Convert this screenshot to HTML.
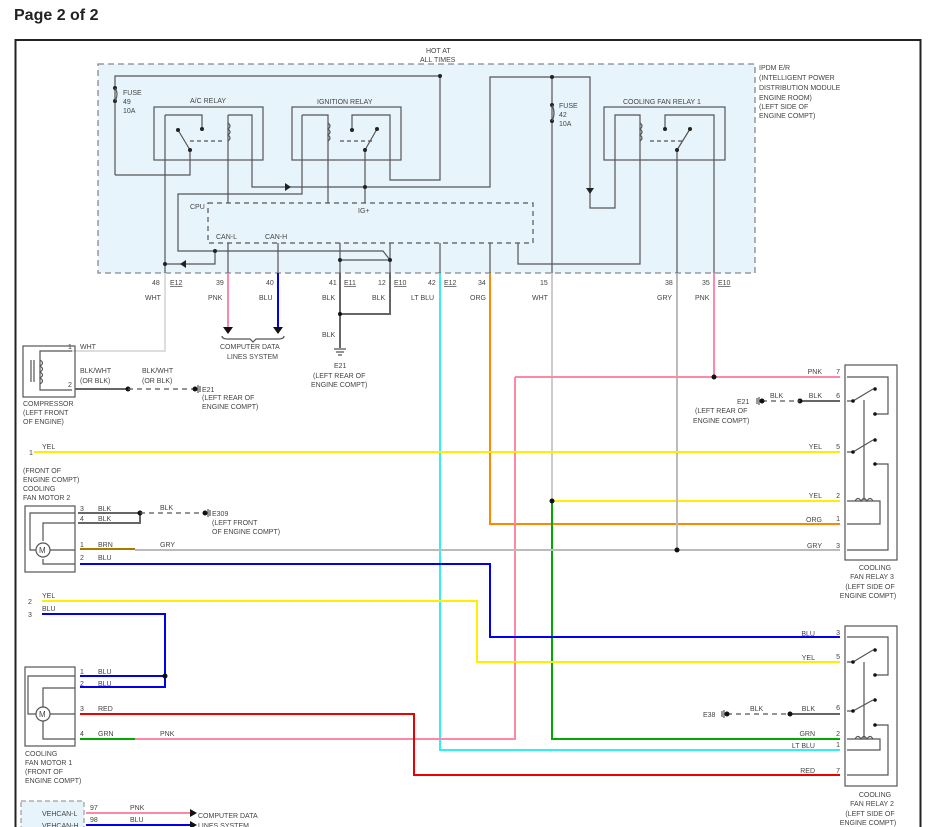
<!DOCTYPE html>
<html><head><meta charset="utf-8"><style>
html,body{margin:0;padding:0;background:#fff;}
svg{display:block;font-family:"Liberation Sans",sans-serif;}
text{font-size:7px;fill:#444;}
.t{font-size:16px;font-weight:bold;fill:#222;}
.k{stroke:#555;stroke-width:1.2;fill:none;}
.w{stroke-width:2;fill:none;}
.d{stroke:#555;stroke-width:1.2;fill:none;stroke-dasharray:5,4;}
</style></head><body>
<svg width="938" height="827" viewBox="0 0 938 827">
<text x="14" y="20" class="t">Page 2 of 2</text>
<rect x="15.5" y="40" width="905" height="800" fill="none" stroke="#222" stroke-width="2"/>

<!-- IPDM -->
<rect x="98" y="64" width="657" height="209" fill="#e8f4fc" stroke="#888" stroke-width="1.3" stroke-dasharray="6,4"/>
<text x="426" y="53">HOT AT</text><text x="420" y="62">ALL TIMES</text>
<text x="759" y="70">IPDM E/R</text><text x="759" y="80">(INTELLIGENT POWER</text><text x="759" y="90">DISTRIBUTION MODULE</text><text x="759" y="100">ENGINE ROOM)</text><text x="759" y="109">(LEFT SIDE OF</text><text x="759" y="118">ENGINE COMPT)</text>
<!-- relays boxes -->
<rect x="154" y="107" width="109" height="53" fill="#e8f4fc" class="k"/>
<rect x="292" y="107" width="109" height="53" fill="#e8f4fc" class="k"/>
<rect x="604" y="107" width="121" height="53" fill="#e8f4fc" class="k"/>
<text x="190" y="103">A/C RELAY</text><text x="317" y="104">IGNITION RELAY</text><text x="623" y="104">COOLING FAN RELAY 1</text>
<rect x="208" y="203" width="325" height="40" fill="#e8f4fc" class="d"/>
<text x="190" y="209">CPU</text><text x="358" y="213">IG+</text><text x="216" y="239">CAN-L</text><text x="265" y="239">CAN-H</text>
<text x="123" y="95">FUSE</text><text x="123" y="104">49</text><text x="123" y="113">10A</text>
<text x="559" y="108">FUSE</text><text x="559" y="117">42</text><text x="559" y="126">10A</text>
<g class="k">
<path d="M115 175V76H440V180H390V115H352V130"/>
<path d="M115 175H190V150"/>
<path d="M178 130L190 150M165 115H202V129M165 115V273"/>
<path d="M228 115H252V187H490V77H590V208H615V115H640V264H518V243"/>
<path d="M228 115V203M228 243V273"/>
<path d="M302 115H328V203M302 115V194H178V251H383L390 260M340 260H390"/>
<path d="M365 150L377 129M365 150V203M352 130H352"/>
<path d="M552 77V273M665 129V115H714V273M677 150L690 129M677 150V273"/>
<path d="M278 243V273M340 243V273M390 243V273M440 243V273M490 243V273"/>
<path d="M165 264H215V251"/>
<path d="M190 141H222M340 141H372M650 141H683" stroke-dasharray="4,3"/>
</g>
<g fill="#222">
<circle cx="440" cy="76" r="2"/><circle cx="115" cy="88" r="2"/><circle cx="115" cy="101" r="2"/>
<circle cx="178" cy="130" r="2"/><circle cx="202" cy="129" r="2"/><circle cx="190" cy="150" r="2"/>
<circle cx="352" cy="130" r="2"/><circle cx="377" cy="129" r="2"/><circle cx="365" cy="150" r="2"/><circle cx="365" cy="187" r="2"/>
<circle cx="665" cy="129" r="2"/><circle cx="690" cy="129" r="2"/><circle cx="677" cy="150" r="2"/>
<circle cx="552" cy="77" r="2"/><circle cx="552" cy="105" r="2"/><circle cx="552" cy="121" r="2"/>
<circle cx="165" cy="264" r="2"/><circle cx="215" cy="251" r="2"/><circle cx="340" cy="260" r="2"/><circle cx="390" cy="260" r="2"/>
<path d="M285 183L291 187L285 191Z"/><path d="M186 260L180 264L186 268Z"/><path d="M586 188L594 188L590 194Z"/>
</g>
<g class="k" stroke-width="1"><path d="M228 123q4 3 0 6q4 3 0 6q4 3 0 6"/><path d="M328 123q4 3 0 6q4 3 0 6q4 3 0 6"/><path d="M640 123q4 3 0 6q4 3 0 6q4 3 0 6"/><path d="M115 88q4 6 0 13"/><path d="M552 105q4 8 0 16"/></g>

<!-- pin labels -->
<g>
<text x="152" y="285">48</text><text x="170" y="285" text-decoration="underline">E12</text><text x="145" y="300">WHT</text>
<text x="216" y="285">39</text><text x="208" y="300">PNK</text>
<text x="266" y="285">40</text><text x="259" y="300">BLU</text>
<text x="329" y="285">41</text><text x="344" y="285" text-decoration="underline">E11</text><text x="322" y="300">BLK</text>
<text x="378" y="285">12</text><text x="394" y="285" text-decoration="underline">E10</text><text x="372" y="300">BLK</text>
<text x="428" y="285">42</text><text x="444" y="285" text-decoration="underline">E12</text><text x="411" y="300">LT BLU</text>
<text x="478" y="285">34</text><text x="470" y="300">ORG</text>
<text x="540" y="285">15</text><text x="532" y="300">WHT</text>
<text x="665" y="285">38</text><text x="657" y="300">GRY</text>
<text x="702" y="285">35</text><text x="718" y="285" text-decoration="underline">E10</text><text x="695" y="300">PNK</text>
</g>

<!-- wires -->
<path class="w" stroke="#dddddd" d="M165 273V351H72"/>
<path class="w" stroke="#ff88a8" d="M228 273V328"/>
<path class="w" stroke="#0000ee" d="M278 273V328"/>
<path d="M223 327H233L228 334Z M273 327H283L278 334Z" fill="#111"/>
<path class="k" stroke-width="1" d="M222 336q0 3 6 3h22l3 3l3-3h22q6 0 6-3"/>
<text x="220" y="349">COMPUTER DATA</text><text x="227" y="359">LINES SYSTEM</text>
<path class="w" stroke="#666" d="M340 273V348M390 273V314H340"/>
<circle cx="340" cy="314" r="2" fill="#111"/><text x="322" y="337">BLK</text>
<path class="k" d="M334 349H346M336 352H344M338 355H342"/>
<text x="334" y="368">E21</text><text x="313" y="378">(LEFT REAR OF</text><text x="311" y="387">ENGINE COMPT)</text>
<path class="w" stroke="#33eeee" d="M440 273V750H840"/>
<path class="w" stroke="#ff8800" d="M490 273V524H840"/>
<path class="w" stroke="#cccccc" d="M552 273V501"/>
<path class="w" stroke="#ffee00" d="M552 501H840"/>
<path class="w" stroke="#00aa00" d="M552 501V739H840"/>
<path class="w" stroke="#bbbbbb" d="M677 273V550"/>
<path class="w" stroke="#ff88a8" d="M714 273V377M515 377H840M515 377V739H135"/>
<path class="w" stroke="#ffee00" d="M34 452H840"/>
<path class="w" stroke="#bbbbbb" d="M135 550H840"/>
<path class="w" stroke="#aa7700" d="M80 549H135"/>
<path class="w" stroke="#0000ee" d="M80 564H490V637H840"/>
<path class="w" stroke="#ffee00" d="M42 601H477V662H840"/>
<path class="w" stroke="#0000ee" d="M42 614H165V687H80M80 676H165"/>
<path class="w" stroke="#ee0000" d="M80 714H414V775H840"/>
<path class="w" stroke="#00aa00" d="M80 739H135"/>
<g fill="#111"><circle cx="552" cy="501" r="2.5"/><circle cx="677" cy="550" r="2.5"/><circle cx="714" cy="377" r="2.5"/><circle cx="165" cy="676" r="2.5"/></g>

<!-- compressor -->
<rect x="23" y="346" width="52" height="51" fill="#e8f4fc" class="k"/>
<path class="k" stroke-width="1" d="M72 351H40V390H72M40 360q5 3 0 6q5 3 0 6q5 3 0 6q5 3 0 6M34 360V382M31 360V382"/>
<text x="68" y="349">1</text><text x="80" y="349">WHT</text><text x="68" y="387">2</text>
<path class="w" stroke="#666" d="M75 389H128"/><circle cx="128" cy="389" r="2.5" fill="#111"/>
<path class="d" d="M128 389H195"/><circle cx="195" cy="389" r="2.5" fill="#111"/><path class="k" d="M198 385V393M200 386V392"/>
<text x="80" y="373">BLK/WHT</text><text x="80" y="383">(OR BLK)</text><text x="142" y="373">BLK/WHT</text><text x="142" y="383">(OR BLK)</text>
<text x="202" y="392">E21</text><text x="202" y="400">(LEFT REAR OF</text><text x="202" y="409">ENGINE COMPT)</text>
<text x="23" y="406">COMPRESSOR</text><text x="23" y="415">(LEFT FRONT</text><text x="23" y="424">OF ENGINE)</text>
<text x="29" y="455">1</text><text x="42" y="449">YEL</text>

<!-- fan motor 2 -->
<text x="23" y="473">(FRONT OF</text><text x="23" y="482">ENGINE COMPT)</text><text x="23" y="491">COOLING</text><text x="23" y="500">FAN MOTOR 2</text>
<rect x="25" y="506" width="50" height="66" fill="#e8f4fc" class="k"/>
<path class="k" stroke-width="1" d="M75 513H30V550H36M75 523H43V541M50 550H75M43 559V564H75"/>
<circle cx="43" cy="550" r="7" fill="#e8f4fc" class="k"/><text x="39" y="553" style="font-size:8px">M</text>
<path class="w" stroke="#666" d="M78 513H140M78 523H140V513"/><circle cx="140" cy="513" r="2.5" fill="#111"/>
<path class="d" d="M140 513H205"/><circle cx="205" cy="513" r="2.5" fill="#111"/><path class="k" d="M208 509V517M210 510V516"/>
<text x="80" y="511">3</text><text x="98" y="511">BLK</text><text x="80" y="521">4</text><text x="98" y="521">BLK</text><text x="160" y="510">BLK</text>
<text x="212" y="516">E309</text><text x="212" y="525">(LEFT FRONT</text><text x="212" y="534">OF ENGINE COMPT)</text>
<text x="80" y="547">1</text><text x="98" y="547">BRN</text><text x="160" y="547">GRY</text><text x="80" y="560">2</text><text x="98" y="560">BLU</text>
<text x="28" y="604">2</text><text x="42" y="598">YEL</text><text x="28" y="617">3</text><text x="42" y="611">BLU</text>

<!-- fan motor 1 -->
<rect x="25" y="667" width="50" height="79" fill="#e8f4fc" class="k"/>
<path class="k" stroke-width="1" d="M75 676H28V714H36M75 688H43V707M50 714H75M43 721V739H75"/>
<circle cx="43" cy="714" r="7" fill="#e8f4fc" class="k"/><text x="39" y="717" style="font-size:8px">M</text>
<text x="80" y="674">1</text><text x="98" y="674">BLU</text><text x="80" y="686">2</text><text x="98" y="686">BLU</text>
<text x="80" y="711">3</text><text x="98" y="711">RED</text><text x="80" y="736">4</text><text x="98" y="736">GRN</text><text x="160" y="736">PNK</text>
<text x="25" y="756">COOLING</text><text x="25" y="765">FAN MOTOR 1</text><text x="25" y="774">(FRONT OF</text><text x="25" y="783">ENGINE COMPT)</text>

<!-- bottom -->
<rect x="21" y="801" width="63" height="40" fill="#e8f4fc" stroke="#888" stroke-dasharray="5,3"/>
<text x="42" y="816">VEHCAN-L</text><text x="42" y="828">VEHCAN-H</text>
<path class="w" stroke="#ff88a8" d="M86 813H190"/><path class="w" stroke="#0000ee" d="M86 825H190"/>
<path d="M190 809L197 813L190 817ZM190 821L197 825L190 829Z" fill="#111"/>
<text x="90" y="810">97</text><text x="130" y="810">PNK</text><text x="90" y="822">98</text><text x="130" y="822">BLU</text>
<text x="198" y="818">COMPUTER DATA</text><text x="198" y="828">LINES SYSTEM</text>

<!-- relay 3 -->
<rect x="845" y="365" width="52" height="195" fill="#e8f4fc" class="k"/>
<path class="k" stroke-width="1" d="M847 377H888V414H875M847 401H853L873 389M847 452H853L873 440M875 464H888V550H847M847 501H880V524H847M864 400V500"/>
<path class="k" stroke-width="1" d="M855 501q3-5 6 0q3-5 6 0q3-5 6 0"/>
<g fill="#111"><circle cx="853" cy="401" r="1.8"/><circle cx="875" cy="389" r="1.8"/><circle cx="875" cy="414" r="1.8"/><circle cx="853" cy="452" r="1.8"/><circle cx="875" cy="440" r="1.8"/><circle cx="875" cy="464" r="1.8"/></g>
<g text-anchor="end"><text x="822" y="374">PNK</text><text x="822" y="398">BLK</text><text x="822" y="449">YEL</text><text x="822" y="498">YEL</text><text x="822" y="522">ORG</text><text x="822" y="548">GRY</text>
<text x="840" y="374">7</text><text x="840" y="398">6</text><text x="840" y="449">5</text><text x="840" y="498">2</text><text x="840" y="521">1</text><text x="840" y="548">3</text></g>
<path class="w" stroke="#666" d="M800 401H840"/><circle cx="800" cy="401" r="2.5" fill="#111"/>
<path class="d" d="M762 401H800"/><circle cx="762" cy="401" r="2.5" fill="#111"/><path class="k" d="M759 397V405M757 398V404"/>
<text x="770" y="398">BLK</text><text x="737" y="404">E21</text><text x="695" y="413">(LEFT REAR OF</text><text x="693" y="423">ENGINE COMPT)</text>
<g text-anchor="middle"><text x="875" y="570">COOLING</text><text x="872" y="579">FAN RELAY 3</text><text x="870" y="589">(LEFT SIDE OF</text><text x="868" y="598">ENGINE COMPT)</text></g>

<!-- relay 2 -->
<rect x="845" y="626" width="52" height="160" fill="#e8f4fc" class="k"/>
<path class="k" stroke-width="1" d="M847 637H888V675H875M847 662H853L873 650M847 711H853L873 700M875 725H888V775H847M847 739H880V750H847M864 662V739"/>
<path class="k" stroke-width="1" d="M855 739q3-5 6 0q3-5 6 0q3-5 6 0"/>
<g fill="#111"><circle cx="853" cy="662" r="1.8"/><circle cx="875" cy="650" r="1.8"/><circle cx="875" cy="675" r="1.8"/><circle cx="853" cy="711" r="1.8"/><circle cx="875" cy="700" r="1.8"/><circle cx="875" cy="725" r="1.8"/></g>
<g text-anchor="end"><text x="815" y="636">BLU</text><text x="815" y="660">YEL</text><text x="815" y="711">BLK</text><text x="815" y="736">GRN</text><text x="815" y="748">LT BLU</text><text x="815" y="773">RED</text>
<text x="840" y="635">3</text><text x="840" y="659">5</text><text x="840" y="710">6</text><text x="840" y="736">2</text><text x="840" y="747">1</text><text x="840" y="773">7</text></g>
<path class="w" stroke="#666" d="M790 714H840"/><circle cx="790" cy="714" r="2.5" fill="#111"/>
<path class="d" d="M727 714H790"/><circle cx="727" cy="714" r="2.5" fill="#111"/><path class="k" d="M724 710V718M722 711V717"/>
<text x="750" y="711">BLK</text><text x="703" y="717">E38</text>
<g text-anchor="middle"><text x="875" y="797">COOLING</text><text x="872" y="806">FAN RELAY 2</text><text x="870" y="816">(LEFT SIDE OF</text><text x="868" y="825">ENGINE COMPT)</text></g>
</svg>
</body></html>
